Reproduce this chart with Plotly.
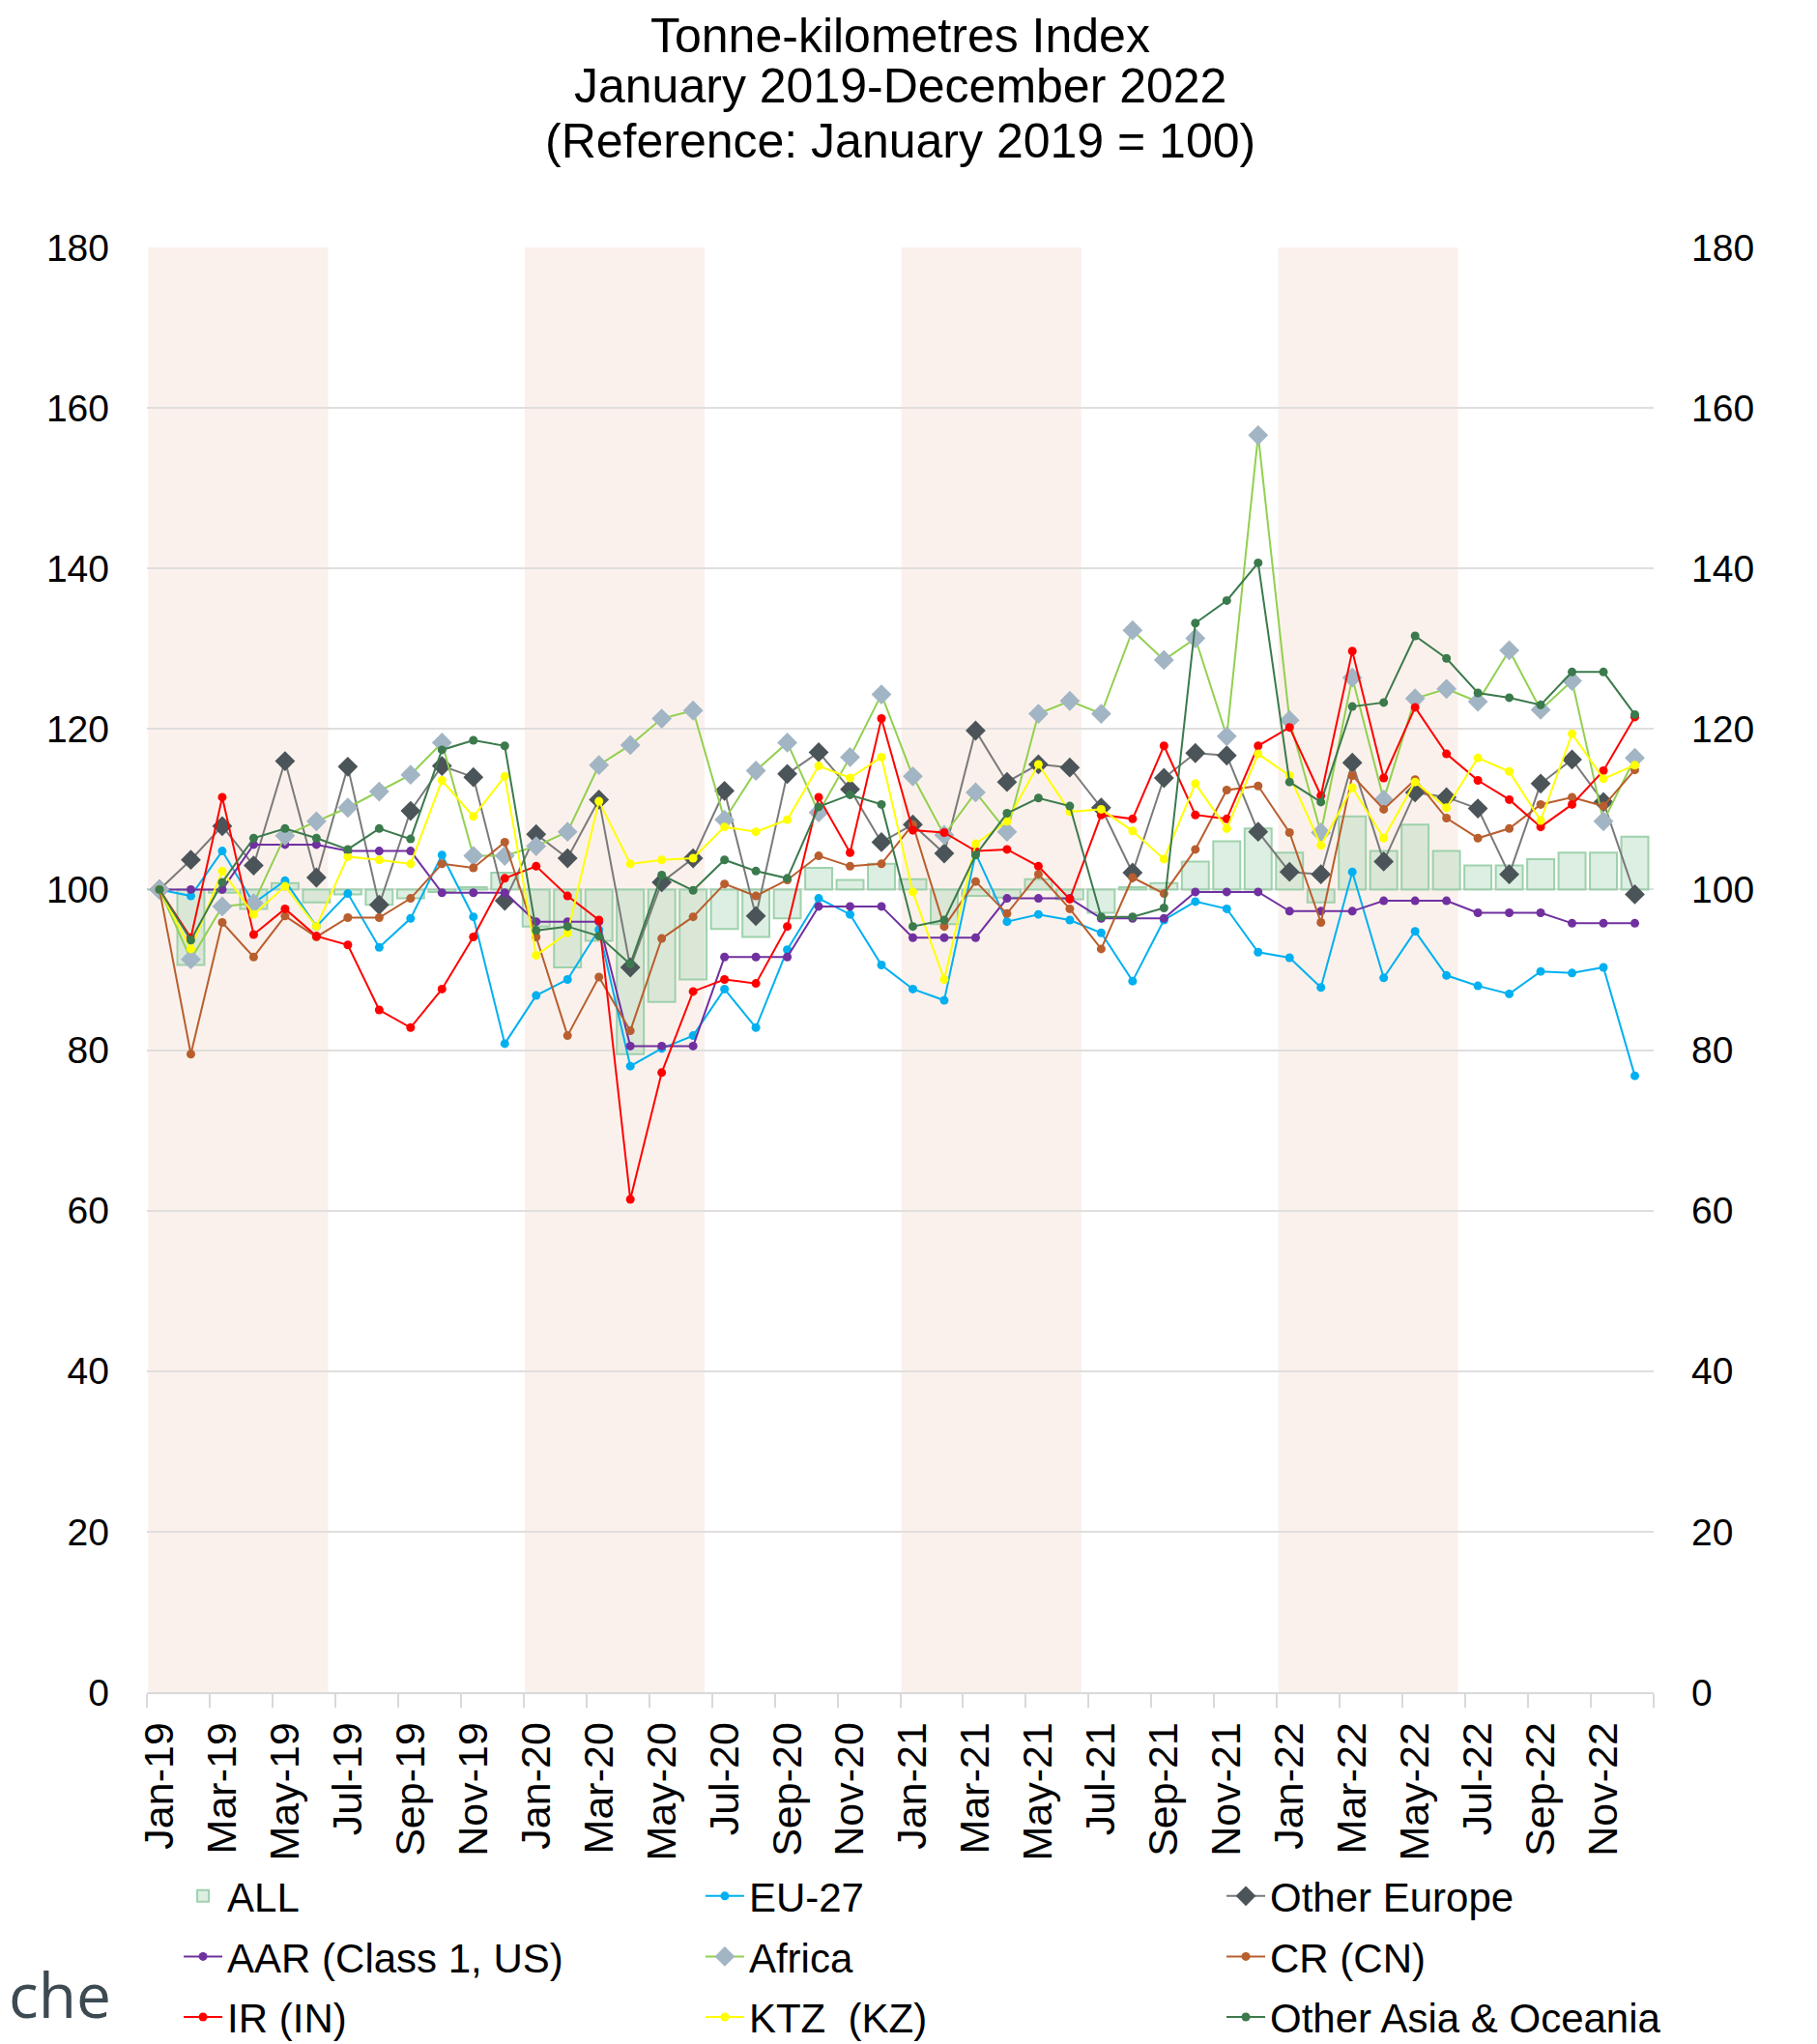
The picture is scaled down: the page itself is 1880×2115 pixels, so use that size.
import plotly.graph_objects as go

# ---------------- data ----------------
month_abbr = ["Jan", "Feb", "Mar", "Apr", "May", "Jun", "Jul", "Aug", "Sep", "Oct", "Nov", "Dec"]
months = [f"{m}-{y}" for y in ["19", "20", "21", "22"] for m in month_abbr]

all_idx = [100, 90.6, 99.6, 97.6, 100.8, 98.4, 99.4, 98.1, 98.9, 99.7, 100.3, 102.1,
           95.4, 90.3, 93.6, 79.5, 86.0, 88.8, 95.1, 94.1, 96.4, 102.7, 101.2, 103.2,
           101.3, 95.7, 99.2, 99.0, 101.3, 98.8, 97.1, 100.3, 100.8, 103.5, 106.0, 107.6,
           104.6, 98.4, 109.1, 104.8, 108.1, 104.8, 103.0, 103.0, 103.8, 104.6, 104.6, 106.6]

eu27 = [100, 99.2, 104.8, 98.3, 101.1, 95.4, 99.5, 92.8, 96.4, 104.3, 96.6, 80.8,
        86.8, 88.8, 95.0, 78.0, 80.2, 81.8, 87.6, 82.8, 92.5, 98.9, 96.9, 90.6,
        87.6, 86.2, 104.5, 96.0, 96.9, 96.2, 94.6, 88.6, 96.2, 98.5, 97.6, 92.2,
        91.5, 87.8, 102.2, 89.0, 94.8, 89.3, 88.0, 87.0, 89.8, 89.6, 90.3, 76.8]

other_europe = [100, 103.7, 107.9, 103.0, 116.0, 101.5, 115.3, 98.1, 109.8, 115.4, 114.0, 98.6,
                106.9, 103.9, 111.2, 90.3, 100.9, 103.9, 112.3, 96.7, 114.4, 117.1, 112.5, 105.9,
                108.1, 104.5, 119.8, 113.4, 115.6, 115.2, 110.2, 102.1, 113.9, 117.0, 116.7, 107.2,
                102.2, 101.9, 115.8, 103.5, 112.1, 111.5, 110.1, 101.9, 113.2, 116.2, 110.9, 99.4]

aar = [100, 100, 100, 105.6, 105.6, 105.6, 104.8, 104.8, 104.8, 99.6, 99.6, 99.6,
       96.0, 96.0, 96.0, 80.5, 80.5, 80.5, 91.6, 91.6, 91.6, 97.9, 97.9, 97.9,
       94.0, 94.0, 94.0, 98.9, 98.9, 98.9, 96.4, 96.4, 96.4, 99.7, 99.7, 99.7,
       97.3, 97.3, 97.3, 98.6, 98.6, 98.6, 97.1, 97.1, 97.1, 95.8, 95.8, 95.8]

africa = [100, 91.3, 97.9, 98.3, 106.7, 108.5, 110.2, 112.2, 114.3, 118.3, 104.2, 104.2,
          105.4, 107.2, 115.5, 118.0, 121.3, 122.3, 108.7, 114.8, 118.3, 109.6, 116.5, 124.3,
          114.1, 106.8, 112.1, 107.2, 121.9, 123.5, 121.9, 132.3, 128.6, 131.3, 119.1, 156.6,
          121.1, 107.1, 126.4, 111.2, 123.8, 125.0, 123.4, 129.8, 122.4, 126.0, 108.5, 116.4]

cr = [100, 79.5, 95.9, 91.6, 96.7, 94.1, 96.5, 96.5, 98.9, 103.2, 102.7, 105.9,
      94.1, 81.8, 89.1, 82.4, 93.9, 96.6, 100.7, 99.2, 101.2, 104.2, 102.9, 103.2,
      108.1, 95.4, 101.0, 97.0, 101.9, 97.6, 92.6, 101.5, 99.5, 105.0, 112.4, 112.9,
      107.1, 95.9, 114.2, 110.0, 113.7, 108.9, 106.4, 107.6, 110.6, 111.5, 110.4, 114.9]

ir = [100, 94.0, 111.5, 94.4, 97.6, 94.2, 93.1, 85.0, 82.8, 87.6, 94.1, 101.4,
      102.9, 99.2, 96.2, 61.4, 77.2, 87.3, 88.8, 88.3, 95.4, 111.5, 104.6, 121.3,
      107.4, 107.1, 104.8, 105.0, 102.9, 98.8, 109.3, 108.8, 117.9, 109.3, 108.8, 117.9,
      120.2, 111.7, 129.7, 113.9, 122.7, 116.9, 113.6, 111.2, 107.8, 110.6, 114.8, 121.5]

ktz = [100, 92.6, 102.3, 96.9, 100.4, 95.4, 104.1, 103.7, 103.2, 113.6, 109.1, 114.1,
       91.8, 94.6, 111.0, 103.2, 103.7, 103.9, 107.8, 107.2, 108.7, 115.4, 113.9, 116.5,
       99.7, 88.8, 105.7, 108.5, 115.6, 109.7, 110.0, 107.3, 103.8, 113.2, 107.6, 116.9,
       114.2, 105.5, 112.7, 106.4, 113.4, 110.2, 116.4, 114.7, 108.6, 119.4, 113.8, 115.5]

other_asia = [100, 93.7, 100.9, 106.4, 107.6, 106.4, 105.0, 107.6, 106.3, 117.4, 118.6, 117.9,
              94.9, 95.4, 94.2, 90.7, 101.8, 99.9, 103.7, 102.3, 101.4, 110.3, 111.8, 110.6,
              95.4, 96.2, 104.3, 109.5, 111.4, 110.4, 96.6, 96.6, 97.7, 133.2, 136.0, 140.7,
              113.4, 110.9, 122.8, 123.3, 131.6, 128.8, 124.5, 123.9, 123.0, 127.1, 127.1, 121.8]

shade_start = ["Jan-19", "Jan-20", "Jan-21", "Jan-22"]
shade_end = ["Jun-19", "Jun-20", "Jun-21", "Jun-22"]

y_ticks = [0, 20, 40, 60, 80, 100, 120, 140, 160, 180]

# ---------------- figure ----------------
FONT = "Liberation Sans, Arial, sans-serif"
xi = list(range(len(months)))

fig = go.Figure()

fig.add_trace(go.Bar(
    x=xi, y=[v - 100 for v in all_idx], base=100, name="ALL",
    width=0.86,
    marker=dict(color="rgba(178,220,190,0.45)", line=dict(color="rgba(150,205,165,0.9)", width=2)),
    legend="legend", legendgroup="ALL", yaxis="y",
    hovertemplate="%{customdata}: %{y}<extra>ALL</extra>", customdata=months,
))

line_specs = [
    ("EU-27", eu27, "#00B0F0", "#00B0F0", "circle", 9, "legend2"),
    ("Other Europe", other_europe, "#7A7A7A", "#4B5458", "diamond", 16, "legend3"),
    ("AAR (Class 1, US)", aar, "#7030A0", "#7030A0", "circle", 9, "legend"),
    ("Africa", africa, "#92D050", "#A2B5C4", "diamond", 16, "legend2"),
    ("CR (CN)", cr, "#B95E2E", "#B95E2E", "circle", 9, "legend3"),
    ("IR (IN)", ir, "#FF0000", "#FF0000", "circle", 9, "legend"),
    ("KTZ\u00a0\u00a0(KZ)", ktz, "#FFFF00", "#FFFF00", "circle", 9, "legend2"),
    ("Other Asia & Oceania", other_asia, "#3B7A4C", "#3B7A4C", "circle", 9, "legend3"),
]

for name, vals, lc, mc, sym, ms, lg in line_specs:
    fig.add_trace(go.Scatter(
        x=xi, y=vals, name=name, mode="lines+markers",
        line=dict(color=lc, width=2),
        marker=dict(color=mc, symbol=sym, size=ms, line=dict(width=0)),
        yaxis="y2", legend=lg, legendgroup=name,
        customdata=months, hovertemplate="%{customdata}: %{y}<extra>" + name + "</extra>",
    ))

# shaded half-year periods
for s, e in zip(shade_start, shade_end):
    fig.add_shape(type="rect", xref="x", yref="y",
                  x0=months.index(s) - 0.36, x1=months.index(e) + 0.37,
                  y0=0, y1=180, fillcolor="#FBF1EC", line=dict(width=0), layer="below")

# title lines
title_lines = ["Tonne-kilometres Index", "January 2019-December 2022", "(Reference: January 2019 = 100)"]
title_y = [1.1465, 1.1118, 1.0736]
for t, ty in zip(title_lines, title_y):
    fig.add_annotation(text=t, xref="paper", yref="paper", x=0.5, y=ty,
                       xanchor="center", yanchor="middle", showarrow=False, borderpad=0,
                       font=dict(family=FONT, size=50, color="#000000"))

# page fragment at bottom left
fig.add_annotation(text="che", xref="paper", yref="paper", x=-0.0924, y=-0.2087,
                   xanchor="left", yanchor="middle", showarrow=False, borderpad=0,
                   font=dict(family="Open Sans, sans-serif", size=64, color="#3D4A52"))

legend_common = dict(orientation="v", yanchor="top", xanchor="left", y=-0.1184,
                     font=dict(family=FONT, size=42, color="#000000"),
                     itemwidth=40, traceorder="grouped", tracegroupgap=5,
                     bgcolor="rgba(0,0,0,0)")

fig.update_layout(
    width=1872, height=2107,
    margin=dict(l=144, r=169, t=248, b=364, autoexpand=False),
    paper_bgcolor="white", plot_bgcolor="white",
    font=dict(family=FONT, color="#000000"),
    showlegend=True,
    barmode="overlay",
    legend=dict(x=0.0212, **legend_common),
    legend2=dict(x=0.3675, **legend_common),
    legend3=dict(x=0.7133, **legend_common),
    xaxis=dict(
        range=[-0.4, 47.6], tickmode="array", tickvals=xi[::2], ticktext=months[::2],
        tickangle=-90, tickfont=dict(size=43, color="#000000"), ticks="",
        showgrid=False, zeroline=False, showline=True, linecolor="#D9D9D9", linewidth=2,
        ticklabelstandoff=12,
        minor=dict(tickmode="array", tickvals=[2 * k - 0.4 for k in range(25)],
                   ticks="outside", ticklen=14, tickcolor="#D9D9D9", tickwidth=2, showgrid=False),
    ),
    yaxis=dict(
        range=[0, 180], tickmode="array", tickvals=y_ticks, side="left",
        tickfont=dict(size=39, color="#000000"), ticks="",
        showgrid=True, gridcolor="#E0DEDE", gridwidth=2, zeroline=False,
        ticklabelstandoff=38,
    ),
    yaxis2=dict(
        range=[0, 180], tickmode="array", tickvals=y_ticks, side="right", overlaying="y",
        tickfont=dict(size=39, color="#000000"), ticks="",
        showgrid=False, zeroline=False, ticklabelstandoff=38,
    ),
)

fig.write_html("out.html")
